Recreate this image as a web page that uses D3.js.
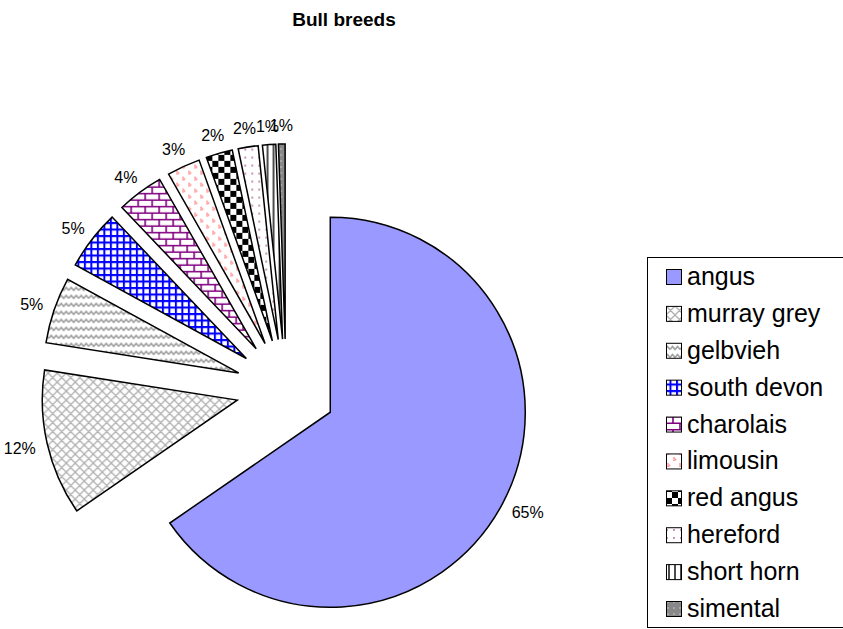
<!DOCTYPE html>
<html>
<head>
<meta charset="utf-8">
<script src="https://cdn.jsdelivr.net/npm/d3@7"></script>
<style>
  html, body { margin: 0; padding: 0; background: #fff; }
  svg { display: block; font-family: "Liberation Sans", Arial, sans-serif; }
</style>
</head>
<body>
<svg id="chart" width="843" height="629"></svg>
<script>
// Herd composition: number of bulls of each breed
const breeds = ["angus", "murray grey", "gelbvieh", "south devon", "charolais",
                "limousin", "red angus", "hereford", "short horn", "simental"];
const bullCounts = [119, 22, 10, 9, 7, 5, 4, 3, 2, 1];
const fillIds = ["fAngus", "fMurray", "fGelb", "fDevon", "fCharolais",
                 "fLimousin", "fRedAngus", "fHereford", "fShortHorn", "fSimental"];

const svg = d3.select("#chart");
const defs = svg.append("defs");

// ---- fill patterns -------------------------------------------------------
function pat(id, w, h) {
  const p = defs.append("pattern").attr("id", id)
    .attr("patternUnits", "userSpaceOnUse").attr("width", w).attr("height", h);
  return p;
}
// angus: plain periwinkle
pat("fAngus", 4, 4).append("rect").attr("width", 4).attr("height", 4).attr("fill", "#9999ff");

// murray grey: diagonal lattice
{
  const p = pat("fMurray", 9, 9);
  p.append("rect").attr("width", 9).attr("height", 9).attr("fill", "#fff");
  p.append("path").attr("d", "M0,0L9,9M9,0L0,9M-1,8L1,10M8,-1L10,1M-1,1L1,-1M8,10L10,8")
    .attr("stroke", "#b0b0b0").attr("stroke-width", 1.3).attr("fill", "none");
}
// gelbvieh: grey waves
{
  const p = pat("fGelb", 10, 8);
  p.append("rect").attr("width", 10).attr("height", 8).attr("fill", "#fff");
  p.append("path").attr("d", "M0,5.5L2.5,2.5L5,5.5L7.5,2.5L10,5.5")
    .attr("stroke", "#a0a0a0").attr("stroke-width", 1.6).attr("fill", "none");
}
// south devon: blue grid
{
  const p = pat("fDevon", 6.5, 6.5);
  p.append("rect").attr("width", 6.5).attr("height", 6.5).attr("fill", "#fff");
  p.append("path").attr("d", "M0,1H6.5M1,0V6.5")
    .attr("stroke", "#0000ff").attr("stroke-width", 2).attr("fill", "none");
}
// charolais: purple brick
{
  const p = pat("fCharolais", 14, 13);
  p.append("rect").attr("width", 14).attr("height", 13).attr("fill", "#fff");
  p.append("path").attr("d", "M0,0.75H14M0,7.25H14M1,0.75V7.25M8,7.25V13")
    .attr("stroke", "#800080").attr("stroke-width", 1.6).attr("fill", "none");
}
// limousin: sparse pink dot clusters
{
  const p = pat("fLimousin", 12, 12);
  p.append("rect").attr("width", 12).attr("height", 12).attr("fill", "#fff");
  [[2, 2], [3.5, 3.5], [2, 4.2], [8, 8], [9.5, 9.5], [8, 10.2]].forEach(([x, y]) =>
    p.append("circle").attr("cx", x).attr("cy", y).attr("r", 0.9).attr("fill", "#ff8a8a"));
}
// red angus: black and white checkerboard
{
  const p = pat("fRedAngus", 12, 12);
  p.append("rect").attr("width", 12).attr("height", 12).attr("fill", "#fff");
  p.append("rect").attr("width", 6).attr("height", 6).attr("fill", "#000");
  p.append("rect").attr("x", 6).attr("y", 6).attr("width", 6).attr("height", 6).attr("fill", "#000");
}
// hereford: small mauve dots
{
  const p = pat("fHereford", 7, 8);
  p.append("rect").attr("width", 7).attr("height", 8).attr("fill", "#fff");
  p.append("circle").attr("cx", 2).attr("cy", 2).attr("r", 0.9).attr("fill", "#b0609a");
}
// short horn: vertical lines
{
  const p = pat("fShortHorn", 6, 6);
  p.append("rect").attr("width", 6).attr("height", 6).attr("fill", "#fff");
  p.append("path").attr("d", "M3,0V6").attr("stroke", "#000").attr("stroke-width", 1.4);
}
// simental: grey with pale dots
{
  const p = pat("fSimental", 6, 6);
  p.append("rect").attr("width", 6).attr("height", 6).attr("fill", "#888");
  p.append("circle").attr("cx", 2).attr("cy", 2).attr("r", 0.8).attr("fill", "#d0d0d0");
}

// ---- title ---------------------------------------------------------------
svg.append("text")
  .attr("x", 344).attr("y", 26)
  .attr("text-anchor", "middle")
  .attr("font-size", 19).attr("font-weight", "bold")
  .text("Bull breeds");

// ---- exploded pie ----------------------------------------------------------
const cx = 286, cy = 389;
const radius = 195, explode = 50, labelGap = 12;

const total = d3.sum(bullCounts);
const pie = d3.pie().sort(null).startAngle(0).endAngle(2 * Math.PI);
const arcs = pie(bullCounts);
const arc = d3.arc().innerRadius(0).outerRadius(radius);

const g = svg.append("g").attr("transform", `translate(${cx},${cy})`);

arcs.forEach((a, i) => {
  const mid = (a.startAngle + a.endAngle) / 2;
  const dx = Math.sin(mid), dy = -Math.cos(mid);
  const slice = g.append("g").attr("transform", `translate(${dx * explode},${dy * explode})`);
  slice.append("path")
    .attr("d", arc(a))
    .attr("fill", `url(#${fillIds[i]})`)
    .attr("stroke", "#000").attr("stroke-width", 1.5)
    .attr("stroke-linejoin", "miter");

  const pct = Math.round(a.value / total * 100) + "%";
  const t = slice.append("text")
    .attr("font-size", 16)
    .attr("text-anchor", "middle")
    .text(pct);
  const hw = t.node().getComputedTextLength() / 2, hh = 7;
  const lx = dx * (radius + labelGap + hw);
  const ly = dy * (radius + labelGap + hh);
  t.attr("x", lx).attr("y", ly + 6);
});

// ---- legend ----------------------------------------------------------------
const legend = svg.append("g");
legend.append("rect")
  .attr("x", 647.5).attr("y", 257.5).attr("width", 220).attr("height", 370)
  .attr("fill", "#fff").attr("stroke", "#000").attr("stroke-width", 1);

const rowY = d3.scalePoint().domain(breeds).range([285, 617]);
breeds.forEach((b, i) => {
  const y = rowY(b);
  legend.append("rect")
    .attr("x", 666.5).attr("y", y - 15.5).attr("width", 15).attr("height", 15)
    .attr("fill", `url(#${fillIds[i]})`)
    .attr("stroke", "#000").attr("stroke-width", 1);
  legend.append("text")
    .attr("x", 687).attr("y", y)
    .attr("font-size", 25)
    .text(b);
});
</script>
</body>
</html>
